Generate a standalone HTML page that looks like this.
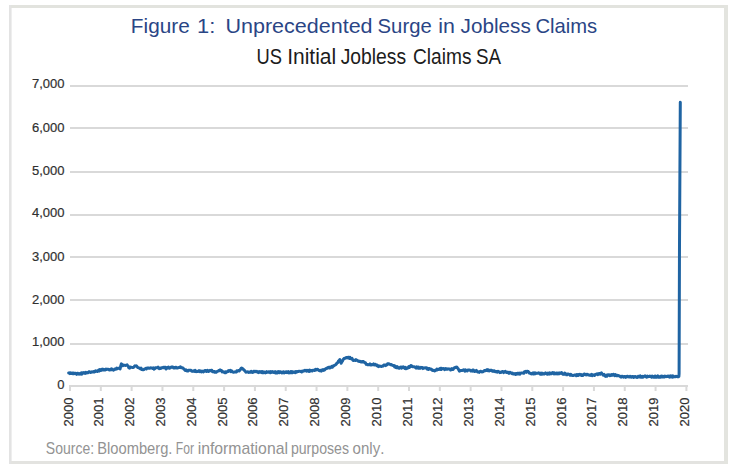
<!DOCTYPE html>
<html><head><meta charset="utf-8"><style>
html,body{margin:0;padding:0;background:#fff;}
svg{display:block;}
text{font-family:"Liberation Sans",sans-serif;font-kerning:none;}
</style></head><body>
<svg width="739" height="471" viewBox="0 0 739 471">
<rect x="0" y="0" width="739" height="471" fill="#fff"/>
<rect x="9" y="5" width="719" height="3" fill="#e2e3de"/>
<rect x="9" y="461" width="719" height="3" fill="#e3e3e0"/>
<rect x="9" y="5" width="2" height="459" fill="#e3e3e3"/>
<rect x="11" y="8" width="1" height="453" fill="#eeeeee"/>
<rect x="724" y="5" width="4" height="459" fill="#e3e4df"/>
<text x="130.89" y="32.7" font-size="20.2" fill="#2a4585" textLength="58.93" lengthAdjust="spacingAndGlyphs">Figure</text>
<text x="197.03" y="32.7" font-size="20.2" fill="#2a4585" textLength="18.27" lengthAdjust="spacingAndGlyphs">1:</text>
<text x="225.44" y="32.7" font-size="20.2" fill="#2a4585" textLength="147.15" lengthAdjust="spacingAndGlyphs">Unprecedented</text>
<text x="377.58" y="32.7" font-size="20.2" fill="#2a4585" textLength="54.12" lengthAdjust="spacingAndGlyphs">Surge</text>
<text x="438.37" y="32.7" font-size="20.2" fill="#2a4585" textLength="16.61" lengthAdjust="spacingAndGlyphs">in</text>
<text x="460.58" y="32.7" font-size="20.2" fill="#2a4585" textLength="70.17" lengthAdjust="spacingAndGlyphs">Jobless</text>
<text x="535.47" y="32.7" font-size="20.2" fill="#2a4585" textLength="61.76" lengthAdjust="spacingAndGlyphs">Claims</text>
<text x="256.59" y="63.8" font-size="22.5" fill="#1c1c1c" textLength="25.45" lengthAdjust="spacingAndGlyphs">US</text>
<text x="287.16" y="63.8" font-size="22.5" fill="#1c1c1c" textLength="49.04" lengthAdjust="spacingAndGlyphs">Initial</text>
<text x="340.70" y="63.8" font-size="22.5" fill="#1c1c1c" textLength="65.50" lengthAdjust="spacingAndGlyphs">Jobless</text>
<text x="413.03" y="63.8" font-size="22.5" fill="#1c1c1c" textLength="58.46" lengthAdjust="spacingAndGlyphs">Claims</text>
<text x="476.05" y="63.8" font-size="22.5" fill="#1c1c1c" textLength="25.09" lengthAdjust="spacingAndGlyphs">SA</text>
<rect x="70" y="85" width="618" height="2" fill="#d9d9d9"/>
<rect x="70" y="127" width="618" height="2" fill="#d9d9d9"/>
<rect x="70" y="171" width="618" height="2" fill="#d9d9d9"/>
<rect x="70" y="214" width="618" height="2" fill="#d9d9d9"/>
<rect x="70" y="256" width="618" height="2" fill="#d9d9d9"/>
<rect x="70" y="299" width="618" height="2" fill="#d9d9d9"/>
<rect x="70" y="343" width="618" height="2" fill="#d9d9d9"/>
<rect x="69" y="385" width="619" height="2" fill="#d9d9d9"/>
<rect x="69.00" y="385" width="2" height="6" fill="#d9d9d9"/>
<rect x="99.82" y="385" width="2" height="6" fill="#d9d9d9"/>
<rect x="130.64" y="385" width="2" height="6" fill="#d9d9d9"/>
<rect x="161.46" y="385" width="2" height="6" fill="#d9d9d9"/>
<rect x="192.28" y="385" width="2" height="6" fill="#d9d9d9"/>
<rect x="223.10" y="385" width="2" height="6" fill="#d9d9d9"/>
<rect x="253.92" y="385" width="2" height="6" fill="#d9d9d9"/>
<rect x="284.74" y="385" width="2" height="6" fill="#d9d9d9"/>
<rect x="315.56" y="385" width="2" height="6" fill="#d9d9d9"/>
<rect x="346.38" y="385" width="2" height="6" fill="#d9d9d9"/>
<rect x="377.20" y="385" width="2" height="6" fill="#d9d9d9"/>
<rect x="408.02" y="385" width="2" height="6" fill="#d9d9d9"/>
<rect x="438.84" y="385" width="2" height="6" fill="#d9d9d9"/>
<rect x="469.66" y="385" width="2" height="6" fill="#d9d9d9"/>
<rect x="500.48" y="385" width="2" height="6" fill="#d9d9d9"/>
<rect x="531.30" y="385" width="2" height="6" fill="#d9d9d9"/>
<rect x="562.12" y="385" width="2" height="6" fill="#d9d9d9"/>
<rect x="592.94" y="385" width="2" height="6" fill="#d9d9d9"/>
<rect x="623.76" y="385" width="2" height="6" fill="#d9d9d9"/>
<rect x="654.58" y="385" width="2" height="6" fill="#d9d9d9"/>
<rect x="685.40" y="385" width="2" height="6" fill="#d9d9d9"/>
<g font-size="13" fill="#303030" stroke="#303030" stroke-width="0.2">
<text x="64.5" y="88" text-anchor="end">7,000</text>
<text x="64.5" y="132" text-anchor="end">6,000</text>
<text x="64.5" y="175" text-anchor="end">5,000</text>
<text x="64.5" y="217" text-anchor="end">4,000</text>
<text x="64.5" y="261" text-anchor="end">3,000</text>
<text x="64.5" y="304" text-anchor="end">2,000</text>
<text x="64.5" y="346" text-anchor="end">1,000</text>
<text x="64.5" y="389" text-anchor="end">0</text>
</g>
<g font-size="13" fill="#303030" stroke="#303030" stroke-width="0.2">
<text transform="translate(72.50,426.5) rotate(-90)" text-anchor="start">2000</text>
<text transform="translate(103.32,426.5) rotate(-90)" text-anchor="start">2001</text>
<text transform="translate(134.14,426.5) rotate(-90)" text-anchor="start">2002</text>
<text transform="translate(164.96,426.5) rotate(-90)" text-anchor="start">2003</text>
<text transform="translate(195.78,426.5) rotate(-90)" text-anchor="start">2004</text>
<text transform="translate(226.60,426.5) rotate(-90)" text-anchor="start">2005</text>
<text transform="translate(257.42,426.5) rotate(-90)" text-anchor="start">2006</text>
<text transform="translate(288.24,426.5) rotate(-90)" text-anchor="start">2007</text>
<text transform="translate(319.06,426.5) rotate(-90)" text-anchor="start">2008</text>
<text transform="translate(349.88,426.5) rotate(-90)" text-anchor="start">2009</text>
<text transform="translate(380.70,426.5) rotate(-90)" text-anchor="start">2010</text>
<text transform="translate(411.52,426.5) rotate(-90)" text-anchor="start">2011</text>
<text transform="translate(442.34,426.5) rotate(-90)" text-anchor="start">2012</text>
<text transform="translate(473.16,426.5) rotate(-90)" text-anchor="start">2013</text>
<text transform="translate(503.98,426.5) rotate(-90)" text-anchor="start">2014</text>
<text transform="translate(534.80,426.5) rotate(-90)" text-anchor="start">2015</text>
<text transform="translate(565.62,426.5) rotate(-90)" text-anchor="start">2016</text>
<text transform="translate(596.44,426.5) rotate(-90)" text-anchor="start">2017</text>
<text transform="translate(627.26,426.5) rotate(-90)" text-anchor="start">2018</text>
<text transform="translate(658.08,426.5) rotate(-90)" text-anchor="start">2019</text>
<text transform="translate(688.90,426.5) rotate(-90)" text-anchor="start">2020</text>
</g>
<polyline points="68.70,373.04 69.32,372.83 69.93,373.63 70.55,372.81 71.17,373.55 71.78,373.35 72.40,372.94 73.02,373.66 73.63,373.01 74.25,373.65 74.87,373.15 75.48,373.24 76.10,373.79 76.72,374.34 77.34,373.23 77.95,373.32 78.57,373.87 79.19,374.30 79.81,373.69 80.43,373.36 81.05,374.18 81.66,372.73 82.28,373.89 82.90,372.98 83.49,372.68 84.09,372.56 84.68,372.77 85.28,373.44 85.87,372.41 86.46,372.93 87.06,372.93 87.65,372.45 88.25,372.63 88.84,371.82 89.44,371.73 90.03,371.87 90.62,372.50 91.22,372.04 91.81,371.79 92.41,372.11 93.00,371.83 93.62,371.45 94.24,372.03 94.85,371.73 95.47,370.90 96.09,371.24 96.71,371.01 97.33,371.38 97.95,371.01 98.56,370.19 99.18,371.07 99.80,369.63 100.42,369.99 101.04,370.40 101.65,369.41 102.27,369.82 102.89,369.05 103.51,369.91 104.13,369.96 104.75,369.58 105.36,369.95 105.98,369.01 106.60,369.49 107.22,369.37 107.84,369.37 108.45,369.22 109.07,369.82 109.69,370.00 110.31,369.32 110.93,369.64 111.55,368.76 112.16,369.75 112.78,369.69 113.40,370.24 114.05,369.83 114.70,368.88 115.35,368.88 116.00,369.15 116.68,368.13 117.37,368.74 118.05,368.25 118.73,368.13 119.42,367.99 120.10,369.00 120.75,365.84 121.40,363.82 122.10,364.50 122.80,365.69 123.50,364.97 124.10,365.30 124.70,365.23 125.30,365.52 125.90,365.20 126.50,365.05 127.10,364.87 127.70,365.77 128.30,366.39 128.90,367.88 129.58,368.11 130.26,367.02 130.94,367.17 131.62,367.38 132.30,367.50 132.97,367.54 133.63,367.37 134.30,366.54 134.97,365.82 135.63,366.11 136.30,365.70 136.98,366.48 137.66,367.54 138.34,367.63 139.02,367.84 139.70,368.48 140.38,368.76 141.06,368.03 141.74,369.50 142.42,369.52 143.10,369.86 143.77,369.65 144.44,368.94 145.11,368.85 145.79,368.31 146.46,369.00 147.13,368.04 147.80,367.95 148.42,368.16 149.04,368.09 149.65,368.36 150.27,367.93 150.89,367.85 151.51,368.08 152.13,368.00 152.75,368.40 153.36,367.89 153.98,369.16 154.60,368.77 155.28,367.87 155.96,367.83 156.64,367.77 157.32,367.60 158.00,367.03 158.68,368.32 159.36,368.74 160.04,368.15 160.72,368.38 161.40,367.98 162.05,367.68 162.70,367.71 163.35,367.27 164.00,367.79 164.67,367.13 165.33,367.25 166.00,368.98 166.60,368.22 167.20,367.52 167.80,367.99 168.40,367.09 169.00,367.72 169.60,368.27 170.20,367.97 170.80,367.59 171.47,367.00 172.14,367.21 172.81,366.97 173.49,367.94 174.16,367.63 174.83,368.06 175.50,367.44 176.13,367.17 176.76,367.94 177.39,368.08 178.01,367.77 178.64,367.59 179.27,367.49 179.90,367.26 180.53,366.88 181.16,367.70 181.79,367.84 182.41,367.74 183.04,368.12 183.67,368.88 184.30,369.24 184.90,370.01 185.50,370.53 186.10,369.90 186.70,370.76 187.30,370.96 187.90,371.03 188.50,370.27 189.10,370.18 189.71,370.23 190.32,370.22 190.93,370.27 191.54,370.93 192.15,371.38 192.75,371.33 193.36,370.82 193.97,371.12 194.58,371.38 195.19,370.34 195.80,371.24 196.42,371.64 197.04,371.48 197.65,371.46 198.27,371.08 198.89,370.65 199.51,371.60 200.13,370.94 200.75,371.67 201.36,371.95 201.98,371.12 202.60,371.15 203.22,371.91 203.83,371.52 204.45,370.63 205.07,370.51 205.68,370.49 206.30,371.56 206.92,371.35 207.53,370.30 208.15,371.26 208.77,371.44 209.38,370.89 210.00,370.38 210.62,370.80 211.24,370.30 211.85,370.25 212.47,371.82 213.09,371.46 213.71,371.40 214.33,372.14 214.95,371.52 215.56,372.30 216.18,372.36 216.80,371.57 217.46,371.29 218.12,371.01 218.78,370.59 219.44,370.77 220.10,369.94 220.78,370.51 221.47,370.41 222.15,371.92 222.83,371.41 223.52,371.90 224.20,372.43 224.81,372.78 225.42,371.92 226.03,372.54 226.64,371.78 227.25,371.70 227.86,371.56 228.47,370.67 229.08,371.17 229.69,370.65 230.30,370.26 230.98,371.67 231.67,370.94 232.35,371.61 233.03,372.20 233.72,372.17 234.40,372.04 235.00,372.11 235.60,371.94 236.20,372.06 236.80,370.82 237.40,371.28 238.00,370.59 238.60,370.41 239.20,370.93 239.80,370.31 240.65,369.04 241.50,367.99 242.27,368.89 243.03,368.85 243.80,369.77 244.50,370.41 245.20,371.22 245.90,372.29 246.57,371.89 247.24,371.96 247.91,371.84 248.59,372.49 249.26,372.08 249.93,372.31 250.60,372.36 251.22,371.36 251.83,371.84 252.45,372.44 253.07,372.31 253.68,371.28 254.30,371.28 254.92,371.79 255.53,371.26 256.15,371.54 256.77,371.31 257.38,372.23 258.00,372.43 258.61,372.61 259.23,371.51 259.84,372.37 260.45,372.29 261.07,371.53 261.68,372.66 262.30,372.80 262.91,371.69 263.52,372.80 264.14,371.98 264.75,372.13 265.36,372.90 265.98,372.68 266.59,371.68 267.20,372.10 267.82,372.24 268.43,371.99 269.05,371.79 269.66,371.99 270.27,372.61 270.89,371.57 271.50,372.38 272.10,372.21 272.71,371.58 273.31,372.05 273.91,372.49 274.52,372.32 275.12,371.65 275.73,373.03 276.33,372.73 276.93,373.01 277.54,371.71 278.14,371.95 278.74,371.61 279.35,372.72 279.95,371.96 280.55,371.74 281.16,372.18 281.76,372.92 282.36,372.78 282.97,371.94 283.57,371.77 284.17,372.93 284.78,372.41 285.38,372.60 285.99,371.68 286.59,371.64 287.19,372.58 287.80,372.19 288.40,371.66 289.00,372.94 289.60,372.47 290.20,372.70 290.80,371.61 291.40,372.75 292.00,371.54 292.60,372.72 293.20,372.09 293.80,371.90 294.40,372.20 295.00,372.75 295.60,371.74 296.20,371.51 296.80,372.09 297.40,371.64 298.00,371.43 298.60,371.49 299.22,371.23 299.84,371.37 300.45,371.45 301.07,371.34 301.69,371.93 302.31,371.14 302.93,371.36 303.55,370.79 304.16,370.95 304.78,370.37 305.40,370.63 306.02,370.22 306.63,371.25 307.25,370.93 307.87,370.33 308.48,370.71 309.10,371.35 309.72,370.06 310.33,371.08 310.95,370.45 311.57,370.49 312.18,370.95 312.80,370.24 313.47,370.21 314.14,370.28 314.81,370.52 315.49,369.36 316.16,369.90 316.83,369.51 317.50,369.20 318.17,369.66 318.83,370.37 319.50,370.73 320.10,370.62 320.70,370.31 321.30,371.09 321.90,370.14 322.50,369.78 323.10,369.44 323.70,370.36 324.30,370.18 324.90,369.66 325.50,368.81 326.10,368.49 326.70,368.30 327.30,368.29 327.90,367.57 328.50,367.74 329.10,367.21 329.70,367.99 330.37,367.82 331.04,367.00 331.71,366.36 332.39,367.26 333.06,366.09 333.73,365.97 334.40,365.25 335.08,365.14 335.76,364.60 336.44,363.96 337.12,362.83 337.80,362.61 338.47,361.06 339.13,360.65 339.80,359.58 340.50,361.90 341.20,363.21 341.88,361.83 342.55,360.91 343.22,359.45 343.90,358.63 344.57,358.22 345.25,358.23 345.93,357.76 346.60,357.52 347.28,357.91 347.96,357.31 348.64,357.36 349.32,358.49 350.00,357.37 350.68,358.64 351.36,358.91 352.04,358.42 352.72,360.00 353.40,360.49 354.05,360.17 354.70,360.40 355.35,360.59 356.00,359.66 356.70,360.37 357.40,360.47 358.10,361.10 358.77,361.24 359.44,361.46 360.11,361.28 360.79,361.93 361.46,361.80 362.13,362.00 362.80,361.49 363.47,361.58 364.14,362.12 364.81,362.85 365.49,362.85 366.16,364.33 366.83,364.30 367.50,364.79 368.12,364.79 368.74,364.87 369.35,364.58 369.97,363.85 370.59,365.05 371.21,364.97 371.83,364.60 372.45,364.65 373.06,364.84 373.68,363.95 374.30,364.96 374.90,364.42 375.50,364.34 376.10,364.82 376.70,365.70 377.30,365.10 377.90,366.09 378.50,366.64 379.10,366.10 379.70,366.12 380.37,366.17 381.04,366.38 381.71,366.40 382.39,366.08 383.06,366.01 383.73,365.07 384.40,365.07 385.04,365.02 385.67,365.54 386.31,364.67 386.95,364.85 387.59,363.81 388.23,363.67 388.86,363.77 389.50,364.16 390.14,364.49 390.77,364.76 391.41,364.49 392.05,365.12 392.69,365.35 393.33,365.65 393.96,365.43 394.60,366.89 395.28,366.13 395.96,367.58 396.64,367.79 397.32,366.70 398.00,367.64 398.60,368.14 399.20,368.32 399.80,367.50 400.40,367.19 401.00,367.06 401.60,368.13 402.20,366.99 402.80,367.50 403.40,366.80 404.00,367.34 404.70,368.31 405.40,367.42 406.10,368.78 406.77,368.01 407.44,368.28 408.11,367.71 408.79,366.70 409.46,367.40 410.13,366.48 410.80,365.49 411.47,365.66 412.14,366.59 412.81,366.73 413.49,366.70 414.16,366.66 414.83,367.17 415.50,367.32 416.12,368.12 416.74,366.87 417.35,368.00 417.97,368.15 418.59,367.08 419.21,368.29 419.83,367.98 420.45,368.28 421.06,367.37 421.68,367.50 422.30,367.54 422.92,368.56 423.54,368.05 424.15,367.82 424.77,368.03 425.39,367.91 426.01,367.68 426.63,367.87 427.25,369.07 427.86,368.36 428.48,369.44 429.10,368.52 429.70,368.70 430.30,369.23 430.90,368.90 431.50,369.33 432.10,370.36 432.70,370.41 433.30,370.46 433.90,370.34 434.50,370.92 435.10,370.81 435.70,370.06 436.30,370.16 436.90,369.00 437.50,369.87 438.10,369.29 438.70,369.59 439.30,369.27 439.90,368.58 440.51,368.22 441.12,369.54 441.73,368.34 442.34,368.86 442.95,368.67 443.56,368.60 444.17,369.26 444.78,369.61 445.39,368.54 446.00,369.13 446.67,368.72 447.33,369.22 448.00,369.09 448.67,368.87 449.33,368.98 450.00,369.16 450.62,370.03 451.24,369.23 451.85,368.63 452.47,369.48 453.09,369.44 453.71,368.43 454.33,367.79 454.95,367.68 455.56,367.35 456.18,367.54 456.80,366.99 457.48,367.96 458.15,368.74 458.82,369.95 459.50,371.18 460.10,370.96 460.70,370.44 461.30,370.42 461.90,370.57 462.50,370.33 463.10,370.26 463.70,369.83 464.30,370.13 464.90,371.15 465.50,369.87 466.10,370.42 466.70,370.59 467.30,370.93 467.90,369.94 468.50,370.01 469.10,369.96 469.70,370.17 470.30,370.22 470.91,371.07 471.51,371.00 472.12,371.13 472.72,369.94 473.33,370.05 473.93,371.15 474.54,371.52 475.14,370.98 475.75,371.24 476.35,370.45 476.96,371.12 477.56,372.01 478.17,371.95 478.77,372.09 479.38,372.35 479.98,371.35 480.59,371.23 481.19,371.39 481.80,372.03 482.48,371.85 483.15,371.81 483.82,371.06 484.50,370.52 485.17,370.70 485.84,370.24 486.51,370.38 487.19,369.61 487.86,370.72 488.53,369.90 489.20,370.93 489.83,370.65 490.46,370.27 491.09,370.13 491.72,370.45 492.35,371.16 492.98,371.38 493.62,370.63 494.25,370.70 494.88,371.51 495.51,371.73 496.14,371.57 496.77,371.45 497.40,372.15 498.02,371.26 498.63,371.69 499.25,371.92 499.87,372.66 500.48,372.18 501.10,372.53 501.72,371.90 502.33,371.54 502.95,371.55 503.57,372.61 504.18,372.22 504.80,371.61 505.39,371.30 505.99,372.13 506.58,372.51 507.18,372.25 507.77,372.12 508.36,372.86 508.96,373.36 509.55,372.43 510.15,372.26 510.74,372.83 511.34,373.07 511.93,373.59 512.52,372.98 513.12,373.99 513.71,374.02 514.31,373.79 514.90,373.46 515.52,374.55 516.14,373.51 516.75,374.22 517.37,373.28 517.99,373.21 518.61,373.96 519.23,373.21 519.85,374.14 520.46,373.40 521.08,372.89 521.70,372.88 522.37,372.93 523.04,373.06 523.71,373.24 524.39,371.80 525.06,371.93 525.73,371.41 526.40,372.31 527.00,371.25 527.60,371.31 528.20,371.51 528.80,372.20 529.40,373.14 530.00,373.31 530.60,373.27 531.20,373.86 531.80,373.95 532.42,373.07 533.04,372.88 533.65,374.04 534.27,373.78 534.89,372.73 535.51,373.71 536.13,373.31 536.75,373.33 537.36,373.29 537.98,373.08 538.60,372.85 539.23,373.27 539.85,373.38 540.48,374.28 541.11,373.04 541.73,374.30 542.36,373.16 542.99,373.38 543.61,374.08 544.24,374.08 544.87,373.50 545.49,372.92 546.12,373.56 546.75,373.41 547.37,374.23 548.00,373.14 548.60,373.36 549.20,374.12 549.80,372.78 550.40,373.32 551.00,373.88 551.60,373.78 552.20,372.65 552.80,372.60 553.43,372.64 554.06,373.93 554.69,372.94 555.31,373.67 555.94,373.90 556.57,373.06 557.20,372.96 557.83,373.99 558.46,373.48 559.09,372.94 559.71,373.62 560.34,373.02 560.97,372.96 561.60,372.56 562.21,373.78 562.82,374.12 563.43,373.79 564.04,374.35 564.65,373.06 565.26,373.47 565.87,373.93 566.48,374.75 567.09,374.84 567.70,374.08 568.30,373.97 568.91,374.34 569.52,374.53 570.13,375.28 570.74,374.25 571.35,375.28 571.96,375.28 572.57,375.50 573.18,375.52 573.79,375.37 574.40,375.04 575.01,374.99 575.62,375.02 576.23,375.62 576.84,374.53 577.45,374.67 578.06,375.47 578.67,374.68 579.28,374.37 579.89,374.29 580.50,375.03 581.11,374.65 581.72,375.60 582.33,375.42 582.94,375.54 583.55,374.42 584.16,374.12 584.77,374.10 585.38,374.67 585.99,374.95 586.60,374.52 587.22,374.25 587.83,374.58 588.45,374.93 589.07,375.06 589.68,375.22 590.30,375.42 590.92,375.20 591.53,374.43 592.15,375.56 592.77,374.79 593.38,375.25 594.00,375.01 594.62,375.39 595.23,374.42 595.85,374.32 596.47,374.15 597.08,373.85 597.70,374.78 598.32,374.15 598.93,373.61 599.55,373.54 600.17,374.27 600.78,373.38 601.40,372.80 602.08,374.11 602.77,374.33 603.45,375.29 604.13,374.40 604.82,375.41 605.50,376.38 606.12,376.29 606.73,376.29 607.35,374.86 607.97,375.12 608.58,374.75 609.20,374.73 609.82,375.79 610.43,375.09 611.05,375.50 611.67,374.54 612.28,375.17 612.90,374.42 613.53,374.32 614.16,375.29 614.79,375.72 615.42,374.65 616.05,375.57 616.68,375.79 617.32,375.37 617.95,375.78 618.58,375.62 619.21,375.90 619.84,376.16 620.47,376.86 621.10,377.13 621.69,376.46 622.29,376.17 622.88,376.64 623.48,377.17 624.07,376.43 624.66,376.62 625.26,376.46 625.85,377.34 626.45,376.97 627.04,376.24 627.64,376.30 628.23,376.74 628.82,376.98 629.42,377.11 630.01,376.29 630.61,376.40 631.20,377.19 631.80,376.75 632.40,376.54 633.00,376.56 633.60,377.51 634.20,376.53 634.80,376.89 635.40,376.56 636.00,376.63 636.60,377.29 637.20,377.47 637.80,376.50 638.40,376.23 639.00,377.01 639.60,376.21 640.20,375.89 640.80,377.22 641.40,376.49 642.00,377.08 642.60,376.46 643.20,377.17 643.80,376.54 644.40,376.09 645.00,375.87 645.60,376.68 646.20,376.81 646.80,377.21 647.40,375.98 648.00,376.78 648.60,376.41 649.20,376.61 649.80,376.07 650.40,376.27 651.00,376.63 651.60,377.24 652.20,376.01 652.80,376.59 653.40,377.06 654.00,377.30 654.60,376.15 655.20,376.04 655.80,377.26 656.40,377.31 657.00,376.57 657.61,375.93 658.21,377.24 658.82,376.43 659.43,377.21 660.04,376.78 660.64,377.09 661.25,376.09 661.86,377.03 662.46,376.18 663.07,376.46 663.68,377.12 664.29,377.09 664.89,376.12 665.50,376.18 666.11,376.45 666.71,376.63 667.32,376.43 667.93,376.03 668.54,376.22 669.14,376.94 669.75,377.20 670.36,375.91 670.96,376.69 671.57,376.99 672.18,375.91 672.79,377.11 673.39,376.03 674.00,376.75 674.61,376.68 675.23,376.79 675.84,376.31 676.45,376.48 677.06,376.72 677.67,376.49 678.29,376.84 678.90,376.52 679.10,373.50 679.50,243.80 680.30,102.20" fill="none" stroke="#1f64a3" stroke-width="3" stroke-linejoin="round" stroke-linecap="round"/>
<text x="45.86" y="453.8" font-size="17" fill="#939393" textLength="48.21" lengthAdjust="spacingAndGlyphs">Source:</text>
<text x="97.19" y="453.8" font-size="17" fill="#939393" textLength="75.25" lengthAdjust="spacingAndGlyphs">Bloomberg.</text>
<text x="175.80" y="453.8" font-size="17" fill="#939393" textLength="18.20" lengthAdjust="spacingAndGlyphs">For</text>
<text x="197.64" y="453.8" font-size="17" fill="#939393" textLength="90.31" lengthAdjust="spacingAndGlyphs">informational</text>
<text x="290.89" y="453.8" font-size="17" fill="#939393" textLength="58.12" lengthAdjust="spacingAndGlyphs">purposes</text>
<text x="352.57" y="453.8" font-size="17" fill="#939393" textLength="31.81" lengthAdjust="spacingAndGlyphs">only.</text>
</svg>
</body></html>
